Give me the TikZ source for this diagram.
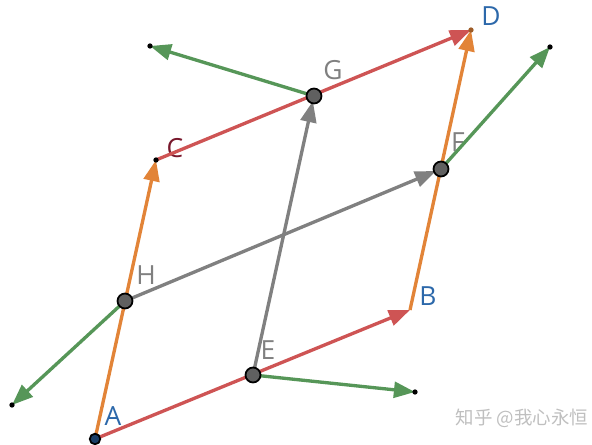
\documentclass[tikz,border=0pt]{standalone}
\usepackage{fontspec}
\setmainfont{Open Sans}
\newfontfamily\cjkfont{Noto Sans CJK SC}
\usetikzlibrary{arrows.meta}
\definecolor{vecred}{RGB}{206,84,84}
\definecolor{vecorange}{RGB}{226,132,56}
\definecolor{vecgray}{RGB}{128,128,128}
\definecolor{vecgreen}{RGB}{86,150,88}
\definecolor{lblblue}{RGB}{44,104,170}
\definecolor{lblred}{RGB}{120,24,44}
\definecolor{ptgray}{RGB}{96,96,96}

\begin{document}
\begin{tikzpicture}[
    vec/.style={line width=1.9pt, -{Triangle[length=12pt, width=9pt]}},
    lbl/.style={font=\fontsize{15}{18}\selectfont},
    pt/.style={circle, draw=black, fill=ptgray, line width=1pt, inner sep=0pt, minimum size=8.5pt},
    tip/.style={circle, fill=black, inner sep=0pt, minimum size=3pt}]
    \useasboundingbox (0,0) rectangle (11.84,8.9);

    % Corners
    \coordinate (A) at (1.9,0.12);
    \coordinate (B) at (8.2,2.7);
    \coordinate (C) at (3.12,5.7);
    \coordinate (D) at (9.42,8.3);

    % Midpoints
    \coordinate (E) at (5.06,1.4);
    \coordinate (F) at (8.82,5.52);
    \coordinate (G) at (6.28,6.98);
    \coordinate (H) at (2.5,2.88);

    % Ends of the green vectors
    \coordinate (eg) at (3.0,7.98);
    \coordinate (ef) at (11.0,7.96);
    \coordinate (eh) at (0.24,0.8);
    \coordinate (ee) at (8.3,1.06);

    % Labels
    \node[lbl, text=lblblue] (la) at (2.26,0.58) {A};
    \node[lbl, text=lblblue] (lb) at (8.56,2.98) {B};
    \node[lbl, text=lblred] (lc) at (3.5,5.94) {C};
    \node[lbl, text=lblblue] (ld) at (9.82,8.58) {D};
    \node[lbl, text=vecgray] (le) at (5.36,1.9) {E};
    \node[lbl, text=vecgray] (lf) at (9.16,6.06) {F};
    \node[lbl, text=vecgray] (lg) at (6.66,7.5) {G};
    \node[lbl, text=vecgray] (lh) at (2.92,3.4) {H};

    % Green vectors
    \draw[vec, vecgreen] (G) -- (eg);
    \draw[vec, vecgreen] (F) -- (ef);
    \draw[vec, vecgreen] (H) -- (eh);
    \draw[vec, vecgreen] (E) -- (ee);

    % Sides
    \draw[vec, vecorange] (A) -- (C);
    \draw[vec, vecorange] (B) -- (D);
    \draw[vec, vecred] (A) -- (B);
    \draw[vec, vecred] (C) -- (D);

    % Gray vectors
    \draw[vec, vecgray, shorten >=3pt] (E) -- (G);
    \draw[vec, vecgray, shorten >=3pt] (H) -- (F);

    % Points
    \node[tip] (te) at (ee) {};
    \node[tip] (tf) at (ef) {};
    \node[tip] (tg) at (eg) {};
    \node[tip] (th) at (eh) {};
    \node[tip] (pc) at (C) {};
    \node[tip, fill=vecorange!70!black] (pd) at (D) {};
    \node[pt, fill=lblblue!60!black, minimum size=6pt] (pa) at (A) {};
    \node[pt] (pe) at (E) {};
    \node[pt] (pf) at (F) {};
    \node[pt] (pg) at (G) {};
    \node[pt] (ph) at (H) {};

    % Watermark
    \node[text=black!25, font=\cjkfont\fontsize{10.5}{12}\selectfont] (wm) at (10.44,0.54) {知乎 @我心永恒};
\end{tikzpicture}
\end{document}
